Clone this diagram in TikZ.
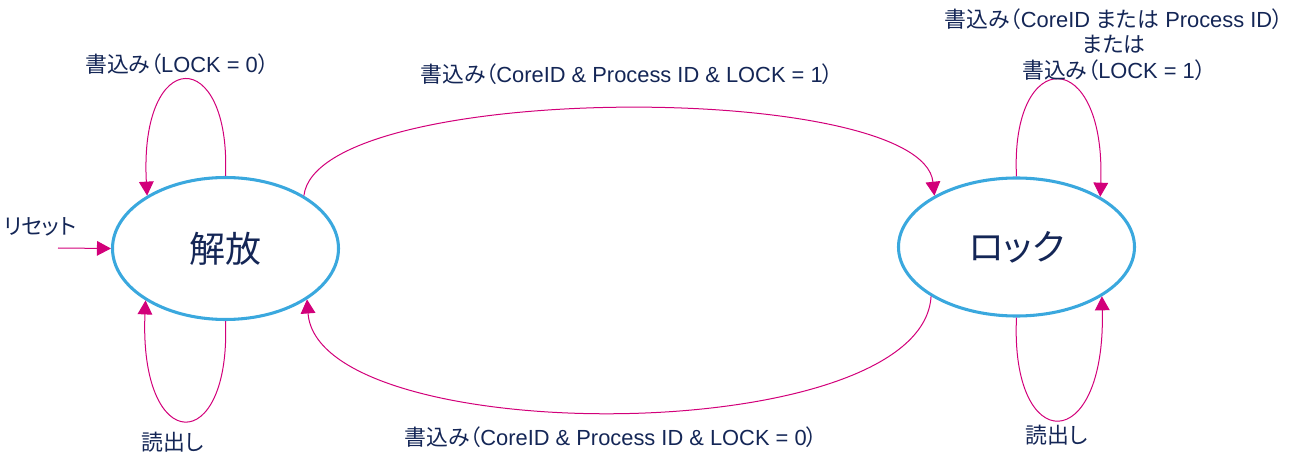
\documentclass[tikz,border=0pt]{standalone}
\usepackage{fontspec}
\setmainfont{Liberation Sans}
\newfontfamily\J[RawFeature=+palt]{Noto Sans CJK JP}
\usetikzlibrary{arrows.meta,shapes.geometric}
\definecolor{txt}{RGB}{20,38,86}
\definecolor{ring}{RGB}{58,168,222}
\definecolor{mag}{RGB}{210,0,122}
\begin{document}
\begin{tikzpicture}[x=0.75pt,y=-0.75pt,
 state/.style={ellipse, draw=ring, line width=2.3pt, inner sep=0pt, font=\J\fontsize{27}{27}\selectfont, text=txt},
 lbl/.style={font=\fontsize{16.4}{19.8}\selectfont, text=txt, inner sep=0pt, align=center},
 edge/.style={draw=mag, line width=0.75pt, -{Triangle[length=10.5pt,width=11pt]}}]
\useasboundingbox (0,0) rectangle (1290,456);
\node[state, minimum width=169.5pt, minimum height=106.5pt] (U) at (225.5,248.5) {解放};
\node[state, minimum width=177pt, minimum height=103.5pt] (R) at (1016.5,247) {ロック};
\coordinate (rst) at (58,248);
\draw[edge] (rst) -- (U.west);
\draw[edge] (U.north) .. controls (231,45) and (139,45) .. (U.146);
\draw[edge] (U.south) .. controls (231,457) and (139,457) .. (U.213);
\draw[edge] (U.34) .. controls (318,80) and (922,80) .. (R.148);
\draw[edge] (R.210) .. controls (922,450) and (318,450) .. (U.328);
\draw[edge] (R.north) .. controls (1010,45) and (1106,45) .. (R.31);
\draw[edge] (R.south) .. controls (1010,457) and (1106,457) .. (R.330);
\node[lbl] (rs) at (40,227) {\J リセット};
\node[lbl] (t1) at (177,64) {{\J 書込み（}LOCK = 0{\J ）}};
\node[lbl] (t2) at (627,74) {{\J 書込み（}CoreID \& Process ID \& LOCK = 1{\J ）}};
\node[lbl, anchor=base, text height=14.5pt, text depth=3.5pt] (t3a) at (1114,28) {{\J 書込み（}CoreID {\J または} Process ID{\J ）}};
\node[lbl, anchor=base] (t3b) at (1114,53) {\J または};
\node[lbl, anchor=base] (t3c) at (1114,79) {{\J 書込み（}LOCK = 1{\J ）}};
\node[lbl] (t4) at (611,437) {{\J 書込み（}CoreID \& Process ID \& LOCK = 0{\J ）}};
\node[lbl] (r1) at (173,442) {\J 読出し};
\node[lbl] (r2) at (1057,435) {\J 読出し};
\end{tikzpicture}
\end{document}
